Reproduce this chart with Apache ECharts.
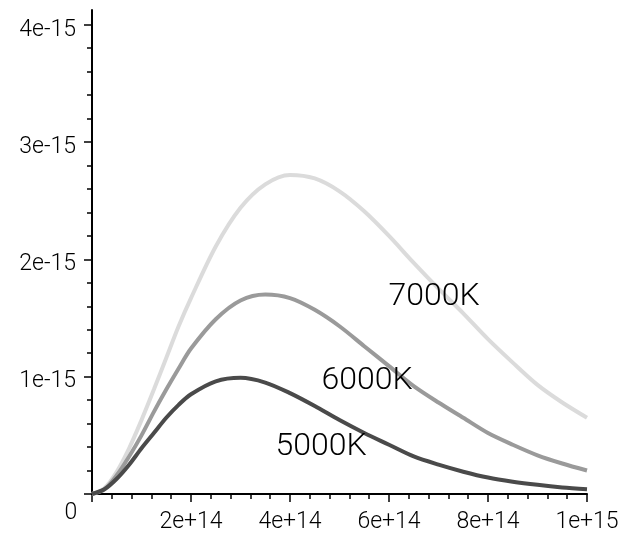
<!DOCTYPE html>
<html>
<head>
<meta charset="utf-8">
<script src="https://cdn.jsdelivr.net/npm/echarts@6/dist/echarts.min.js"></script>
<style>
html,body{margin:0;padding:0;background:#fff;}
#chart{width:638px;height:534px;}
</style>
</head>
<body>
<div id="chart"></div>
<script>
// frequencies in units of 1e14 Hz
var freq = [0, 0.25, 0.5, 0.75, 1, 1.25, 1.5, 1.75, 2, 2.5, 3, 3.5, 4, 4.5, 5, 5.5, 6, 6.5, 7, 7.5, 8, 8.5, 9, 9.5, 10];
// intensities in units of 1e-15
var t7000 = [0, 0.05, 0.19, 0.39, 0.63, 0.89, 1.16, 1.43, 1.67, 2.11, 2.44, 2.64, 2.72, 2.69, 2.58, 2.41, 2.20, 1.97, 1.75, 1.54, 1.32, 1.12, 0.93, 0.78, 0.65];
var t6000 = [0, 0.04, 0.16, 0.32, 0.50, 0.70, 0.89, 1.07, 1.24, 1.49, 1.65, 1.70, 1.67, 1.57, 1.43, 1.26, 1.09, 0.92, 0.78, 0.65, 0.52, 0.42, 0.33, 0.26, 0.20];
var t5000 = [0, 0.04, 0.13, 0.25, 0.39, 0.52, 0.65, 0.76, 0.85, 0.96, 0.99, 0.95, 0.86, 0.75, 0.63, 0.52, 0.42, 0.32, 0.25, 0.19, 0.14, 0.105, 0.078, 0.056, 0.04];
var seriesNames = ['7000K', '6000K', '5000K'];
var xTickLabels = ['2e+14', '4e+14', '6e+14', '8e+14', '1e+15'];
var yTickLabels = ['1e-15', '2e-15', '3e-15', '4e-15'];
// annotation anchors (data units: 1e14 Hz, 1e-15)
var labelAnchors = [[6.91, 1.68], [5.56, 0.96], [4.63, 0.40]];

var FX = 1e14, FY = 1e-15;
function pairs(vals) { return freq.map(function (f, i) { return [f * FX, vals[i] * FY]; }); }

var yMajor = [0, 1, 2, 3, 4].map(function (v) { return v * FY; });
var yLabelVals = [1, 2, 3, 4].map(function (v) { return v * FY; });
var yMinor = [];
for (var k = 0; k < 20; k++) { if (k % 5 !== 0) yMinor.push(k * 0.2 * FY); }
var yMax = 4.126 * FY;

var font = 'Roboto, "Liberation Sans", sans-serif';
var chart = echarts.init(document.getElementById('chart'), null, {renderer: 'canvas'});
var colors = ['#dbdbdb', '#9a9a9a', '#4a4a4a'];
var data = [t7000, t6000, t5000];

chart.setOption({
  animation: false,
  backgroundColor: '#ffffff',
  grid: {left: 92, right: 51, top: 10, bottom: 40},
  xAxis: {
    type: 'value', min: 0, max: 10 * FX, interval: 2 * FX,
    axisLine: {show: true, onZero: false, lineStyle: {color: '#000', width: 2}},
    axisTick: {show: true, inside: false, length: 8, lineStyle: {color: '#000', width: 1.5}},
    minorTick: {show: true, splitNumber: 5, length: 5, lineStyle: {color: '#000', width: 1.5}},
    splitLine: {show: false}, minorSplitLine: {show: false},
    axisLabel: {
      show: true, margin: 17, color: '#000', fontFamily: font, fontWeight: 300, fontSize: 23,
      showMinLabel: false,
      formatter: function (v) { var i = Math.round(v / (2 * FX)) - 1; return i >= 0 ? xTickLabels[i] : ''; }
    }
  },
  yAxis: [{
    type: 'value', min: 0, max: yMax,
    axisLine: {show: true, onZero: false, lineStyle: {color: '#000', width: 2}},
    axisTick: {show: true, inside: false, length: 8, customValues: yMajor, lineStyle: {color: '#000', width: 1.5}},
    splitLine: {show: false},
    axisLabel: {
      show: true, margin: 16, color: '#000',
      customValues: yLabelVals,
      formatter: function (v) { var i = Math.round(v / FY) - 1; return i >= 0 ? '{a|' + yTickLabels[i] + '}' : ''; },
      rich: {a: {fontFamily: font, fontWeight: 300, fontSize: 23, color: '#000', padding: [10, 0, 0, 0]}}
    }
  }, {
    type: 'value', min: 0, max: yMax, position: 'left',
    axisLine: {show: false},
    axisTick: {show: true, inside: false, length: 5, customValues: yMinor, lineStyle: {color: '#000', width: 1.5}},
    axisLabel: {show: false},
    splitLine: {show: false}
  }],
  series: seriesNames.map(function (name, i) {
    return {
      name: name, type: 'line', yAxisIndex: 0, data: pairs(data[i]),
      showSymbol: false, smooth: 0.3, z: 2 + i,
      lineStyle: {color: colors[i], width: 4},
      itemStyle: {color: colors[i]}
    };
  })
});

var graphics = seriesNames.map(function (name, i) {
  var p = chart.convertToPixel({gridIndex: 0}, [labelAnchors[i][0] * FX, labelAnchors[i][1] * FY]);
  return {
    type: 'text', x: p[0], y: p[1], z: 10,
    style: {text: name, fill: '#000', font: '300 32px ' + font, textAlign: 'center', textVerticalAlign: 'middle'}
  };
});
var o = chart.convertToPixel({gridIndex: 0}, [0, 0]);
graphics.push({
  type: 'text', x: o[0] - 21, y: o[1] + 19, z: 10,
  style: {text: '0', fill: '#000', font: '300 23px ' + font, textAlign: 'center', textVerticalAlign: 'middle'}
});
chart.setOption({graphic: graphics});
</script>
</body>
</html>
